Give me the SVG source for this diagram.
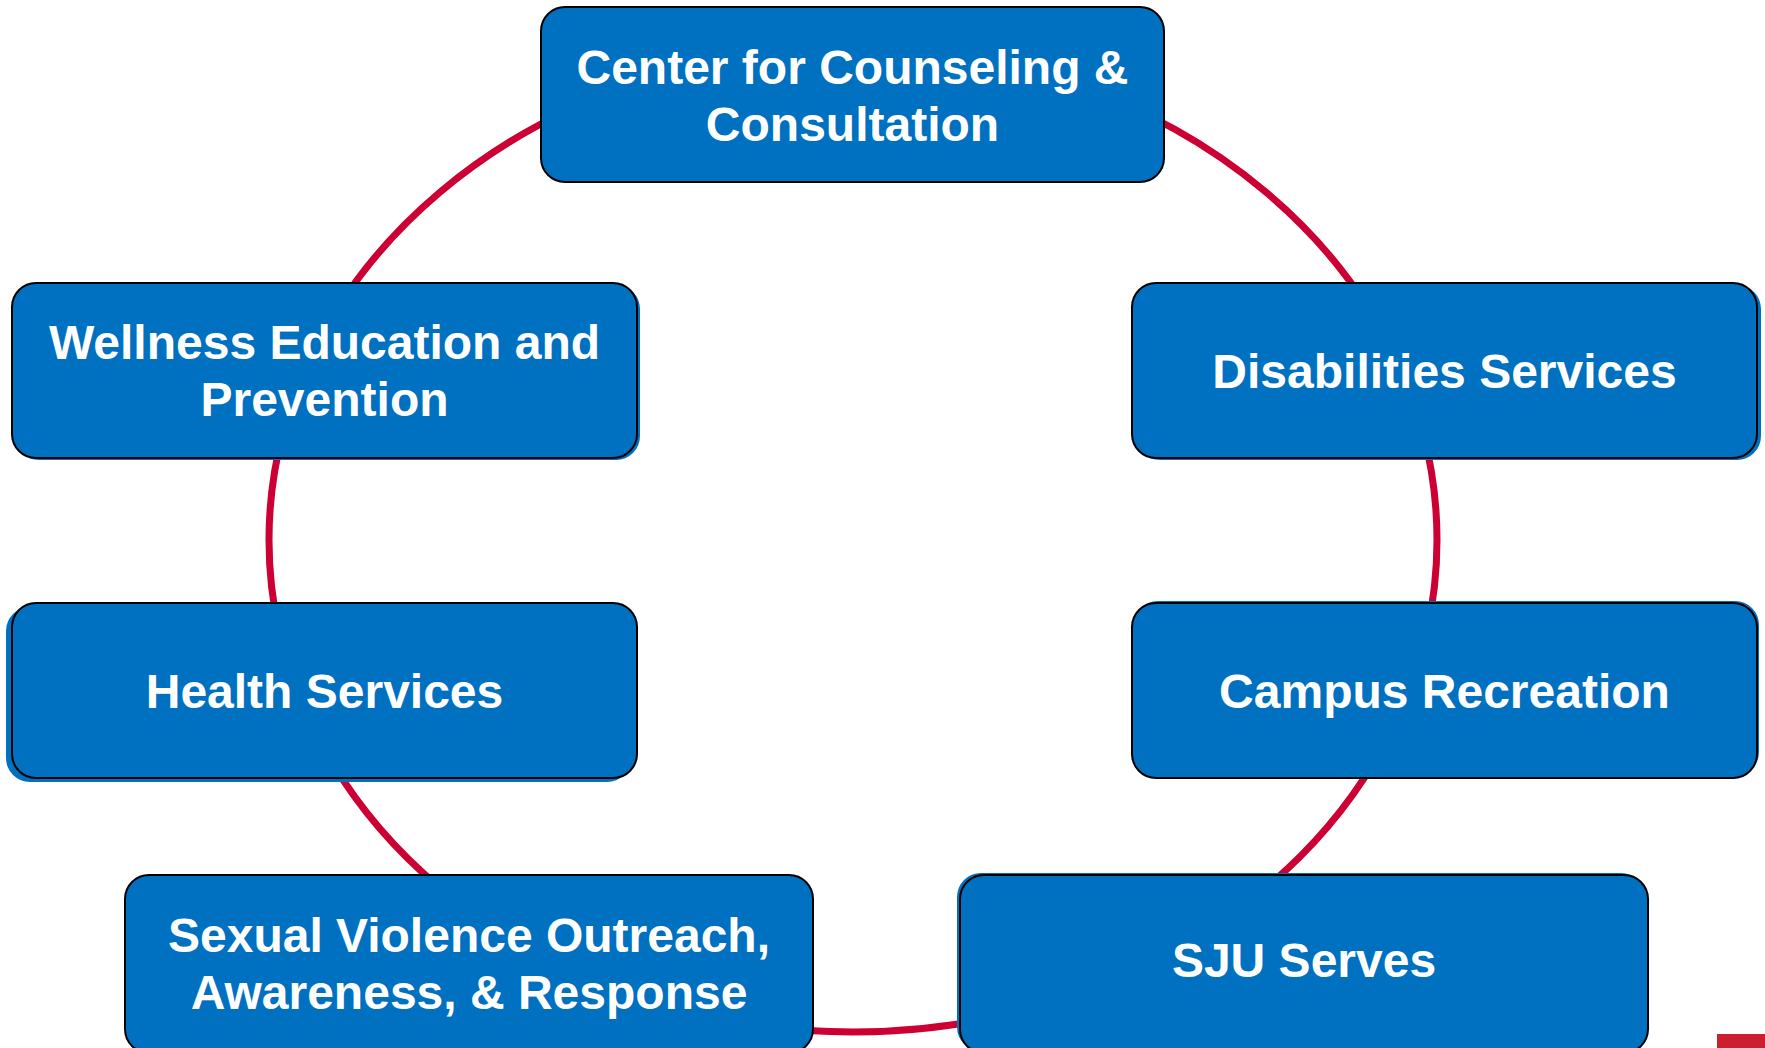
<svg xmlns="http://www.w3.org/2000/svg" width="1765" height="1048" viewBox="0 0 1765 1048">
<style>
.box{fill:#0070C0;stroke:#000;stroke-width:2}
.back{fill:#0070C0}
.lbl{font-family:"Liberation Sans",Arial,sans-serif;font-weight:bold;font-size:48px;fill:#fff;text-anchor:middle}
.ring{fill:none;stroke:#CC0033;stroke-width:7}
</style>
<rect width="1765" height="1048" fill="#fff"/>
<g id="connectors">
<ellipse class="ring" cx="853" cy="540" rx="584" ry="492"/>
</g>
<g id="node-counseling">
<rect class="box" x="541" y="7" width="623" height="175" rx="24"/>
<text class="lbl" x="852.5" y="84">Center for Counseling &amp;</text>
<text class="lbl" x="852.5" y="141">Consultation</text>
</g>
<g id="node-wellness">
<rect class="back" x="15" y="285" width="625" height="175" rx="24"/>
<rect class="box" x="12" y="283" width="625" height="175" rx="24"/>
<text class="lbl" x="324.5" y="359">Wellness Education and</text>
<text class="lbl" x="324.5" y="416">Prevention</text>
</g>
<g id="node-disabilities">
<rect class="back" x="1136" y="285" width="625" height="175" rx="24"/>
<rect class="box" x="1132" y="283" width="625" height="175" rx="24"/>
<text class="lbl" x="1444.5" y="388">Disabilities Services</text>
</g>
<g id="node-health">
<rect class="back" x="6" y="607" width="625" height="175" rx="24"/>
<rect class="box" x="12" y="603" width="625" height="175" rx="24"/>
<text class="lbl" x="324.5" y="708">Health Services</text>
</g>
<g id="node-campus">
<rect class="back" x="1134" y="601" width="625" height="175" rx="24"/>
<rect class="box" x="1132" y="603" width="625" height="175" rx="24"/>
<text class="lbl" x="1444.5" y="708">Campus Recreation</text>
</g>
<g id="node-sexual">
<rect class="box" x="125" y="875" width="688" height="178" rx="24"/>
<text class="lbl" x="469" y="952">Sexual Violence Outreach,</text>
<text class="lbl" x="469" y="1009">Awareness, &amp; Response</text>
</g>
<g id="node-sju">
<rect class="back" x="957" y="873" width="688" height="178" rx="24"/>
<rect class="box" x="960" y="875" width="688" height="178" rx="24"/>
<text class="lbl" x="1304" y="977">SJU Serves</text>
</g>
<rect x="1717" y="1034" width="48" height="14" fill="#CC1F30"/>
</svg>
